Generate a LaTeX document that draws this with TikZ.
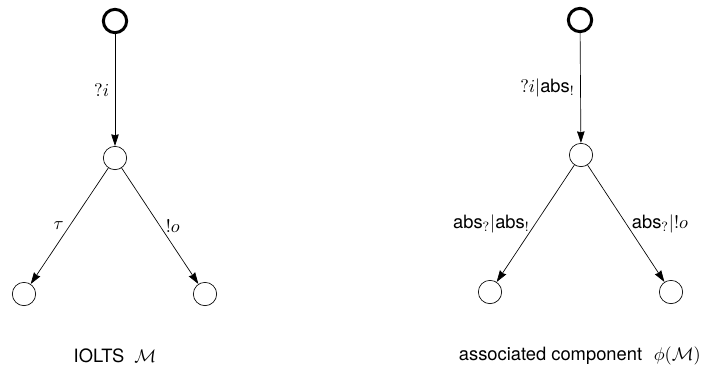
\documentclass[tikz,border=0pt]{standalone}
\usepackage{fontspec}
\setsansfont{TeX Gyre Heros}
\usetikzlibrary{arrows.meta}
\newcommand{\absname}{\textsf{abs}}
\tikzset{
  >={Stealth[length=7pt,width=4.5pt,inset=0.6pt]},
  x=0.6pt,y=-0.6pt,
  font=\fontsize{11}{13}\selectfont,
  loc/.style={draw,shape=circle,minimum size=14pt,inner sep=0,thin},
  initloc/.style={loc,line width=1.8pt},
  trans/.style={draw,->,thin},
  caption/.style={font=\fontsize{11}{13}\selectfont\sffamily},
}
\begin{document}
\begin{tikzpicture}
  \useasboundingbox (0,0) rectangle (702,372);
  % IOLTS
  \node (s0) [initloc] at (115,21) {};
  \node (s1) [loc] at (115,158) {};
  \node (s2) [loc] at (24,294) {};
  \node (s3) [loc] at (205,294) {};
  \path [trans] (s0) -- (s1) node[midway,left]{$?i$};
  \path [trans] (s1) -- (s2) node[midway,left]{$\tau$};
  \path [trans] (s1) -- (s3) node[midway,right]{$!o$};
  \node (capl) [caption] at (115,356) {IOLTS\hspace{6pt}$\mathcal{M}$};
  % associated component
  \node (t0) [initloc] at (580,20) {};
  \node (t1) [loc] at (581,155) {};
  \node (t2) [loc] at (490,292) {};
  \node (t3) [loc] at (671,292) {};
  \path [trans] (t0) -- (t1) node[midway,left]{$?i|\absname_{!}$};
  \path [trans] (t1) -- (t2) node[midway,left]{$\absname_{?}|\absname_{!}$};
  \path [trans] (t1) -- (t3) node[midway,right]{$\absname_{?}|!o$};
  \node (capr) [caption,anchor=west] at (453,356) {associated component\hspace{7pt}$\phi(\mathcal{M})$};
\end{tikzpicture}
\end{document}
